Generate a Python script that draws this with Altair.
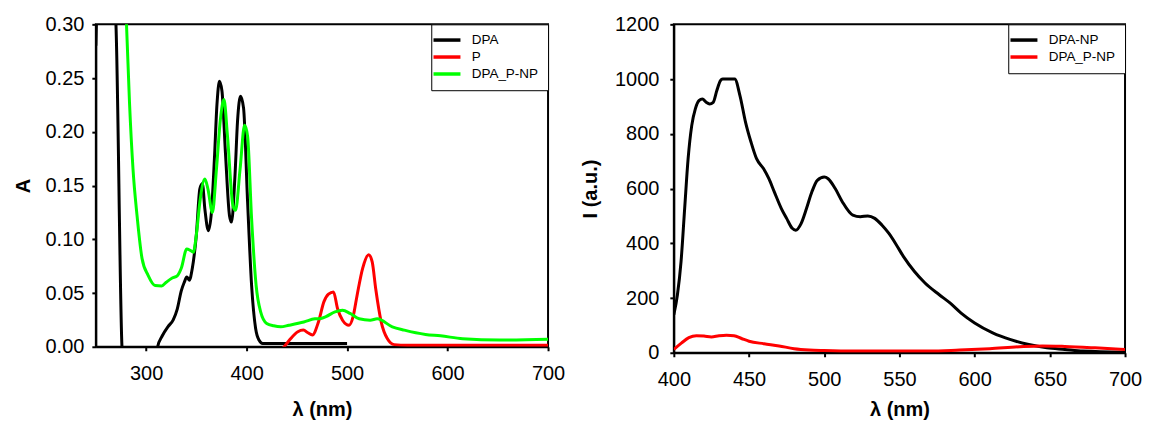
import altair as alt
import pandas as pd

# ---------------- Left panel: absorbance ----------------
dpa_x = [250, 253, 265, 270, 276, 279, 308, 311.5, 316, 322, 327, 331, 335, 338, 340.5, 343, 346,
         350, 353.5, 356, 358.5, 362, 365, 368, 370.5, 373, 375.5, 379, 383, 385, 388.5, 391,
         394, 397, 401, 405, 409, 412.5, 416, 420, 430, 450, 470, 500]
dpa_y = [0.28, 0.36, 0.36, 0.30, 0.0, -0.03, -0.03, 0.0, 0.010, 0.019, 0.025, 0.035, 0.052,
         0.060, 0.065, 0.062, 0.073, 0.104, 0.147, 0.152, 0.128, 0.108, 0.125, 0.175, 0.225,
         0.247, 0.238, 0.18, 0.122, 0.116, 0.16, 0.21, 0.233, 0.222, 0.135, 0.057, 0.017,
         0.006, 0.003, 0.003, 0.003, 0.003, 0.003, 0.003]

p_x = [434, 440, 444, 451, 456.5, 461, 465.5, 471.5, 477, 481.5, 486.5, 490.5, 495.5, 502,
       506, 510, 515.5, 521.5, 525, 528.5, 534, 540, 547, 560, 600, 650, 700]
p_y = [-0.004, 0.003, 0.0077, 0.014, 0.0155, 0.013, 0.011, 0.023, 0.042, 0.049, 0.051,
       0.0356, 0.0247, 0.020, 0.028, 0.048, 0.073, 0.0857, 0.079, 0.054, 0.023, 0.0077,
       0.002, 0.0015, 0.0015, 0.0015, 0.0015]

np_x = [279, 280.5, 283.5, 287, 291, 296, 302, 309, 315.5, 320, 326, 331, 335, 340.5, 344,
        347, 350, 353.5, 358.5, 361.5, 366, 370, 374, 377.5, 381, 386.5, 389, 393.5, 398,
        401, 405, 409.5, 414, 420, 427, 434, 442, 457, 468, 474, 479, 488, 495.5, 503, 512,
        523, 530, 545, 557, 578, 593, 615, 652, 700]
np_y = [0.33, 0.30, 0.227, 0.165, 0.122, 0.082, 0.0665, 0.057, 0.0566, 0.060, 0.064, 0.066,
        0.073, 0.091, 0.0897, 0.088, 0.104, 0.1345, 0.156, 0.147, 0.125, 0.165, 0.212, 0.230,
        0.196, 0.131, 0.127, 0.165, 0.206, 0.196, 0.119, 0.057, 0.0325, 0.0217, 0.0195,
        0.0186, 0.020, 0.023, 0.026, 0.0263, 0.028, 0.0325, 0.034, 0.031, 0.026, 0.0247,
        0.026, 0.0186, 0.0155, 0.0115, 0.0102, 0.0075, 0.0062, 0.007]

left_series = ["DPA", "P", "DPA_P-NP"]
left_colors = ["#000000", "#ff0000", "#00ff00"]
left_xticks = [300, 400, 500, 600, 700]
left_yticks = [0.0, 0.05, 0.10, 0.15, 0.20, 0.25, 0.30]

# ---------------- Right panel: emission ----------------
dpanp_x = [400, 402.4, 404.8, 407.2, 409.5, 411.9, 414.3, 416.7, 419, 421.5, 423.8, 426.2,
           428.6, 431, 432.5, 440.5, 444, 447.7, 451.3, 455, 459.6, 463.2, 466.8, 471.5, 475,
           478.7, 481, 484.7, 488.2, 491.8, 495.4, 500, 502.6, 507.3, 512, 519, 524, 529,
           533.6, 538.3, 543, 548, 552.6, 560, 567, 576.5, 583.6, 591, 600, 612, 624, 636,
           648, 660, 672, 700]
dpanp_y = [139, 212, 333, 527, 709, 830, 891, 921, 927, 915, 909, 915, 958, 994, 1000, 1000,
           939, 842, 770, 709, 673, 636, 588, 527, 491, 455, 448, 473, 527, 588, 630, 642, 636,
           600, 552, 503, 497, 500, 491, 467, 436, 394, 352, 297, 255, 212, 182, 145, 109, 73,
           48, 30, 18, 12, 6, 2]

dpapnp_x = [400, 405, 410, 415, 420, 425, 430, 435, 440, 445, 450, 460, 470, 480, 490, 500,
            520, 550, 570, 590, 610, 630, 645, 660, 680, 700]
dpapnp_y = [12, 35, 55, 62, 61, 58, 62, 64, 62, 52, 42, 33, 25, 15, 10, 8, 6, 6, 6, 10, 15,
            22, 25, 23, 18, 12]

right_series = ["DPA-NP", "DPA_P-NP"]
right_colors = ["#000000", "#ff0000"]
right_xticks = [400, 450, 500, 550, 600, 650, 700]
right_yticks = [0, 200, 400, 600, 800, 1000, 1200]

FONT = "Liberation Sans"


def long_df(pairs):
    rows = []
    for name, xs, ys in pairs:
        for k, (a, b) in enumerate(zip(xs, ys)):
            rows.append({"series": name, "wl": a, "val": b, "idx": k})
    return pd.DataFrame(rows)


df_left = long_df([("DPA", dpa_x, dpa_y), ("P", p_x, p_y), ("DPA_P-NP", np_x, np_y)])
df_right = long_df([("DPA-NP", dpanp_x, dpanp_y), ("DPA_P-NP", dpapnp_x, dpapnp_y)])


def legend():
    return alt.Legend(
        title=None, orient="top-right", offset=0, strokeColor="black", fillColor="white",
        padding=9, symbolType="M-3,0H3", symbolSize=81, symbolStrokeWidth=3.5,
        labelOffset=18, labelFont=FONT, labelFontSize=13.5, labelColor="black",
        rowPadding=2, cornerRadius=0,
    )


left = alt.Chart(df_left).mark_line(strokeWidth=3, clip=True, interpolate="monotone").encode(
    x=alt.X("wl:Q", scale=alt.Scale(domain=[250, 700], nice=False, zero=False),
            axis=alt.Axis(values=left_xticks, title="λ (nm)", format="d", labelFlush=False,
                          labelOverlap=False, labelPadding=13, titlePadding=16)),
    y=alt.Y("val:Q", scale=alt.Scale(domain=[0, 0.30], nice=False),
            axis=alt.Axis(values=left_yticks, format=".2f", title="A", labelFlush=False,
                          labelOverlap=False, labelPadding=8, titlePadding=12)),
    color=alt.Color("series:N", sort=left_series,
                    scale=alt.Scale(domain=left_series, range=left_colors), legend=legend()),
    order="idx:Q",
).properties(width=453, height=323)

right = alt.Chart(df_right).mark_line(strokeWidth=3, clip=True, interpolate="monotone").encode(
    x=alt.X("wl:Q", scale=alt.Scale(domain=[400, 700], nice=False, zero=False),
            axis=alt.Axis(values=right_xticks, title="λ (nm)", format="d", labelFlush=False,
                          labelOverlap=False, labelPadding=13, titlePadding=10)),
    y=alt.Y("val:Q", scale=alt.Scale(domain=[0, 1200], nice=False),
            axis=alt.Axis(values=right_yticks, format="d", title="I (a.u.)", labelFlush=False,
                          labelOverlap=False, labelPadding=11, titlePadding=14)),
    color=alt.Color("series:N", sort=right_series,
                    scale=alt.Scale(domain=right_series, range=right_colors), legend=legend()),
    order="idx:Q",
).properties(width=452, height=329)

chart = alt.hconcat(left, right, spacing=126, bounds="flush").resolve_scale(
    color="independent"
).properties(
    padding={"left": 4, "top": 5, "right": 0, "bottom": 0}
).configure_view(
    stroke="black", strokeWidth=2
).configure_axis(
    domainColor="black", domainWidth=2, tickColor="black", tickWidth=2, tickSize=4,
    grid=False, labelFont=FONT, labelFontSize=20, labelColor="black",
    titleFont=FONT, titleFontSize=20, titleFontWeight="bold", titleColor="black",
)

chart.save("out.html", embed_options={"renderer": "svg", "actions": False})
